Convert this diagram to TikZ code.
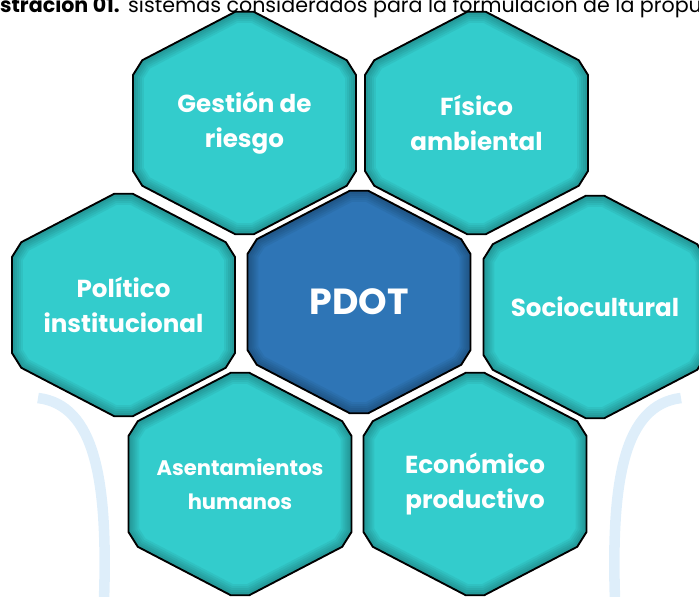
\documentclass[tikz,border=0pt]{standalone}
\usepackage{fontspec}
\setsansfont{Poppins}
\usetikzlibrary{calc}
\definecolor{hexteal}{RGB}{51,204,204}
\definecolor{hexblue}{RGB}{46,117,182}
\definecolor{markblue}{RGB}{222,238,250}
\newcommand\hexpath{(-9.3,-111.2) -- (9.3,-111.2) -- (102.2,-62.8) -- (111.5,-48) -- (111.5,48) -- (102.2,62.8) -- (9.3,111.2) -- (-9.3,111.2) -- (-102.2,62.8) -- (-111.5,48) -- (-111.5,-48) -- (-102.2,-62.8) -- cycle}

\begin{document}
\begin{tikzpicture}[x=0.03cm, y=-0.03cm, font=\sffamily,
  lblmid/.style={text=white, align=center, font=\sffamily\fontsize{21}{30}\selectfont\bfseries},
  lblbig/.style={text=white, align=center, font=\sffamily\fontsize{31}{36}\selectfont\bfseries},
  lblsmall/.style={text=white, align=center, font=\sffamily\fontsize{18}{29}\selectfont\bfseries}]
\useasboundingbox (0,0) rectangle (699,597); \clip (0,0) rectangle (699,597);
\draw[markblue, line width=9pt] (38,398) .. controls (95,405) and (108,480) .. (104,600); \draw[markblue, line width=9pt] (681,398) .. controls (624,405) and (611,480) .. (615,600);
\node[anchor=base east, inner xsep=0pt, font=\sffamily\fontsize{17.6}{18}\selectfont\bfseries] (capnum) at (120,12.5) {Ilustración 01.};
\node[anchor=base west, inner xsep=0pt, font=\sffamily\fontsize{17.6}{18}\selectfont] (captxt) at (128,12.5) {sistemas considerados para la formulación de la propuesta};
\foreach \n/\x/\y/\c/\s/\t in {gest/244.5/123/hexteal/lblmid/{Gestión de\\riesgo}, fisi/476.5/123/hexteal/lblmid/{Físico\\ambiental}, poli/123.5/305/hexteal/lblmid/{Político\\institucional}, pdot/359/302/hexblue/lblbig/{PDOT}, soci/595/307/hexteal/lblmid/{Sociocultural}, asen/240/484/hexteal/lblsmall/{Asentamientos\\humanos}, econ/475/484/hexteal/lblmid/{Económico\\productivo}}{
  \begin{scope}[shift={(\x,\y)}]
    \begin{scope} \clip \hexpath; \fill[\c] \hexpath; \foreach \w in {22,18,14,10,6} \draw[black, opacity=.05, line width=\w*0.85pt] \hexpath; \end{scope}
    \draw[line width=1.6pt] \hexpath;
    \node[\s] (\n) at (0,0) {\t};
  \end{scope}
}
\end{tikzpicture}
\end{document}
